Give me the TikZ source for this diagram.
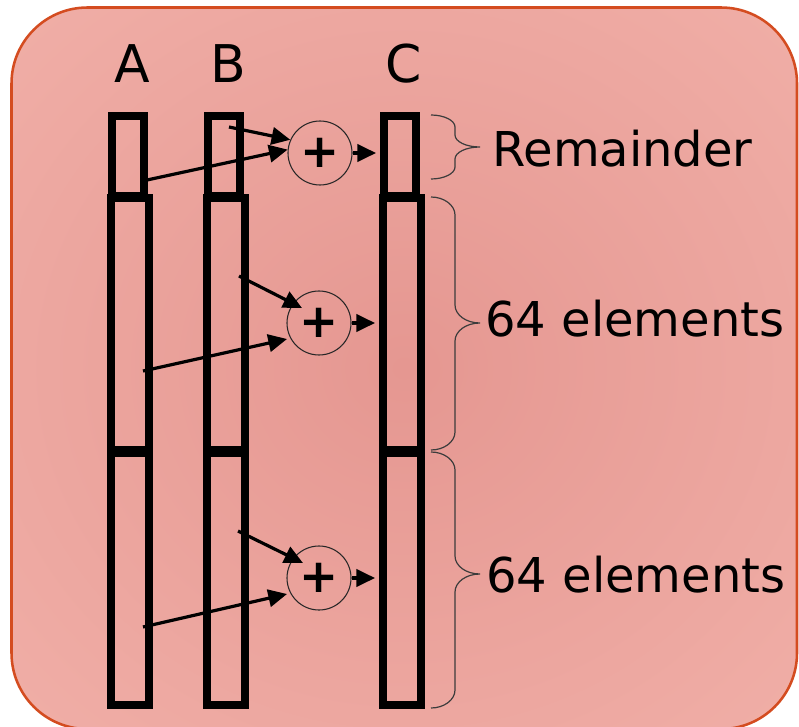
\documentclass[tikz,border=0pt]{standalone}
\usepackage{fontspec}
\setmainfont{DejaVu Sans}
\usetikzlibrary{arrows.meta,calc}
\definecolor{bordc}{RGB}{212,76,32}
\definecolor{bgin}{RGB}{229,151,145}
\definecolor{bgout}{RGB}{245,184,176}
\definecolor{bracec}{RGB}{60,60,60}
\pgfdeclareradialshading{bgshade}{\pgfpoint{0bp}{0bp}}{color(0bp)=(bgin); color(50bp)=(bgout)}
\newcommand\bracedraw[4]{%
  \draw[bracestyle] (431,#1) .. controls (444,#1) and (455,{#1+0.45*#4}) .. (455,{#1+#4})
    -- (455,{#2-#4}) .. controls (455,{#2-0.45*#4}) and (466,#2) .. (480,#2)
    .. controls (466,#2) and (455,{#2+0.45*#4}) .. (455,{#2+#4})
    -- (455,{#3-#4}) .. controls (455,{#3-0.45*#4}) and (444,#3) .. (431,#3);}
\tikzset{
  colbox/.style={draw=black, line width=6pt, inner sep=0pt},
  topbox/.style={colbox, minimum width=24pt, minimum height=60pt},
  lowbox/.style={colbox, minimum width=28.5pt, minimum height=189pt},
  sumnode/.style={circle, draw=black!85, line width=0.8pt, minimum size=48pt, inner sep=0pt,
    font=\fontsize{35}{35}\selectfont\bfseries},
  arr/.style={line width=2.4pt, -{Triangle[length=14pt,width=13pt]}},
  bracestyle/.style={draw=bracec, line width=0.9pt},
  lbl/.style={inner sep=0pt, font=\fontsize{36}{36}\selectfont},
  hdr/.style={inner sep=0pt, anchor=base, font=\fontsize{39}{39}\selectfont},
}
\begin{document}
\begin{tikzpicture}[x=0.75pt,y=-0.75pt]
\useasboundingbox (0,0) rectangle (799,727);
\clip (0,0) rectangle (799,727);
\shadedraw[shading=bgshade, draw=bordc, line width=1.9pt, rounded corners=57pt] (11.5,7.5) rectangle (797,729);

% headers
\node[hdr] (la) at (132,83) {A};
\node[hdr] (lb) at (228,83) {B};
\node[hdr] (lc) at (404,83) {C};

% columns
\node[topbox] (a1) at (128,156) {};
\node[topbox] (b1) at (224,156) {};
\node[topbox] (c1) at (400,156) {};
\node[lowbox] (a2) at (130,324) {};
\node[lowbox] (b2) at (226,324) {};
\node[lowbox] (c2) at (402,324) {};
\node[lowbox] (a3) at (130,579) {};
\node[lowbox] (b3) at (226,579) {};
\node[lowbox] (c3) at (402,579) {};

% adders
\node[sumnode] (p1) at (320,153) {\raisebox{-3.75pt}{+}};
\node[sumnode] (p2) at (319,323) {\raisebox{-3.75pt}{+}};
\node[sumnode] (p3) at (319,578) {\raisebox{-3.75pt}{+}};

% arrow ends
\coordinate (tB1) at (229,127);
\coordinate (tA1) at (147,180);
\coordinate (tB2) at (239,276);
\coordinate (tA2) at (143,371);
\coordinate (hB2) at (302,308);
\coordinate (hA2) at (287,339);
\coordinate (tB3) at (238,531);
\coordinate (tA3) at (143,627);
\coordinate (hB3) at (303,563);
\coordinate (hA3) at (287,594);

\draw[arr] (tB1) -- (p1.156);
\draw[arr] (tA1) -- (p1.174);
\draw[arr, shorten >=3pt] (p1.east) -- (p1.east -| c1.west);

\draw[arr] (tB2) -- (hB2);
\draw[arr] (tA2) -- (hA2);
\draw[arr, shorten >=3pt] (p2.east) -- (p2.east -| c2.west);

\draw[arr] (tB3) -- (hB3);
\draw[arr] (tA3) -- (hA3);
\draw[arr, shorten >=3pt] (p3.east) -- (p3.east -| c3.west);

% braces
\bracedraw{115}{147}{179}{12}
\bracedraw{197}{323}{450}{18}
\bracedraw{452}{574}{708}{18}

% labels
\node[lbl, anchor=base west] (rem) at (492,167) {Remainder};
\node[lbl, anchor=base west] (e1) at (485,336) {64 elements};
\node[lbl, anchor=base west] (e2) at (486,592) {64 elements};
\end{tikzpicture}
\end{document}
